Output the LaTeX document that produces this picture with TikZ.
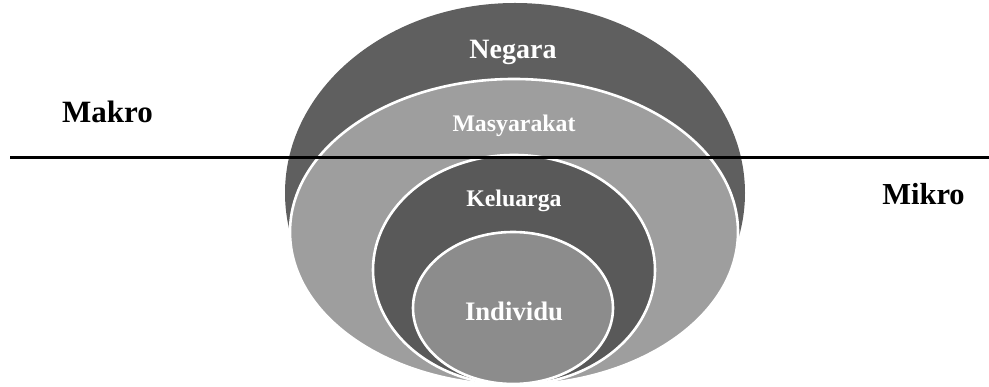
\documentclass[tikz,border=0pt]{standalone}
\usepackage{fontspec}
\setmainfont{Liberation Serif}
\definecolor{dark}{HTML}{5F5F5F}
\definecolor{darker}{HTML}{595959}
\definecolor{light}{HTML}{9E9E9E}
\definecolor{mid}{HTML}{8C8C8C}
\begin{document}
\begin{tikzpicture}[x=1pt,y=1pt,
  ring/.style={draw=white,line width=2.6pt},
  inlbl/.style={text=white,font=\bfseries,anchor=base,inner sep=0pt},
  outlbl/.style={text=black,font=\bfseries,anchor=base,inner sep=0pt}]
\useasboundingbox (0,0) rectangle (989,387);
\fill[dark] (515,194) ellipse [x radius=230, y radius=190];
\draw[ring,fill=light] (514,155) ellipse [x radius=224, y radius=153];
\draw[ring,fill=darker] (514,117) ellipse [x radius=141, y radius=115];
\draw[ring,fill=mid] (513,79) ellipse [x radius=100, y radius=76];
\coordinate (lineL) at (10,229);
\coordinate (lineR) at (989,229);
\draw[line width=3pt] (lineL) -- (lineR);
\node[inlbl,font=\bfseries\fontsize{28}{30}\selectfont] (negara) at (513,328) {Negara};
\node[inlbl,font=\bfseries\fontsize{23.8}{26}\selectfont] (masy) at (514,255) {Masyarakat};
\node[inlbl,font=\bfseries\fontsize{23.8}{26}\selectfont] (kel) at (514,180) {Keluarga};
\node[inlbl,font=\bfseries\fontsize{26.7}{28}\selectfont] (ind) at (514,66) {Individu};
\node[outlbl,font=\bfseries\fontsize{31}{33}\selectfont] (makro) at (107.5,264) {Makro};
\node[outlbl,font=\bfseries\fontsize{30.5}{32}\selectfont] (mikro) at (923.5,182) {Mikro};
\end{tikzpicture}
\end{document}
